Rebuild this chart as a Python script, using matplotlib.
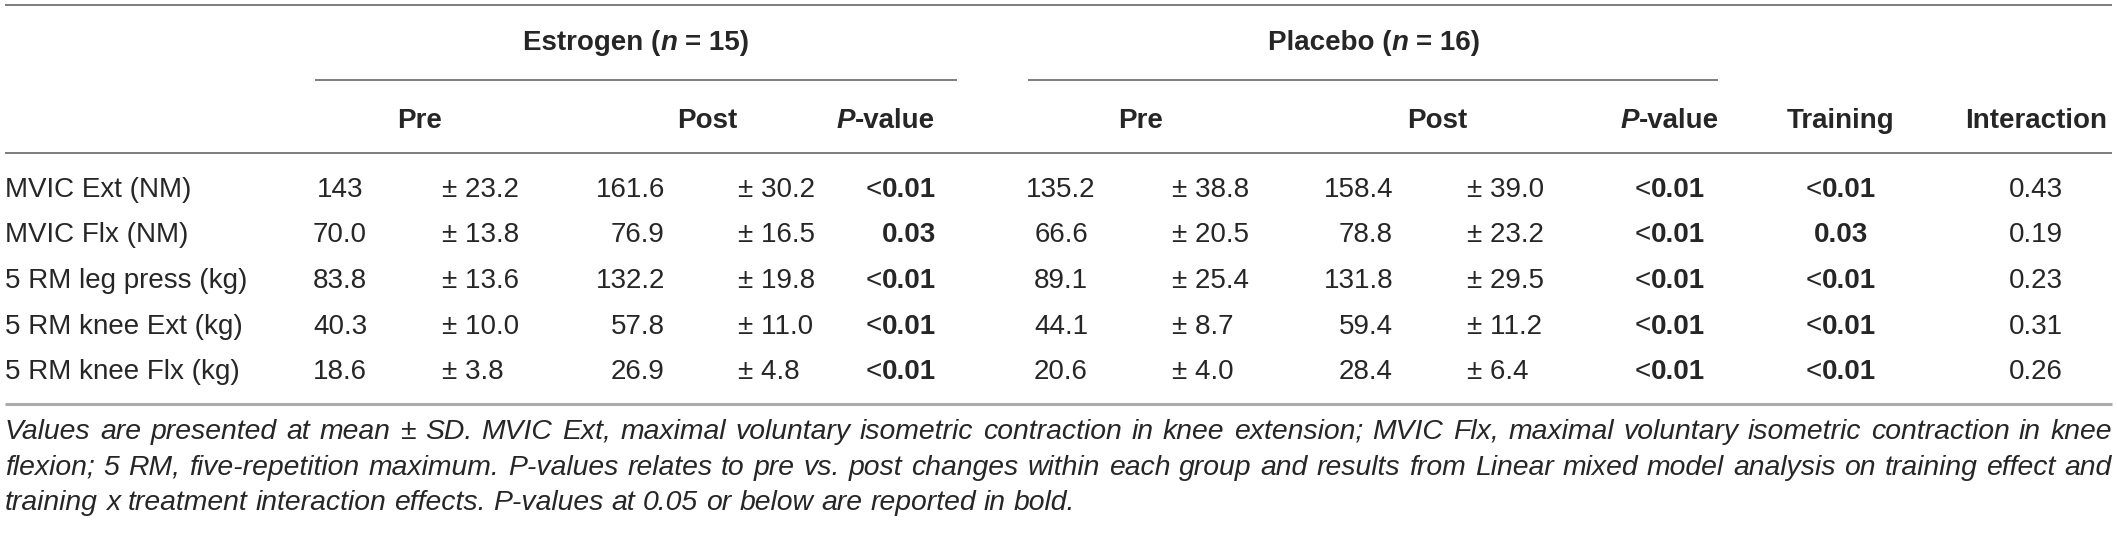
import matplotlib
matplotlib.use('Agg')
import matplotlib.pyplot as plt

# ---- table data ----
row_labels = ["MVIC Ext (NM)", "MVIC Flx (NM)", "5 RM leg press (kg)",
              "5 RM knee Ext (kg)", "5 RM knee Flx (kg)"]
est_pre_mean = ["143", "70.0", "83.8", "40.3", "18.6"]
est_pre_sd = ["23.2", "13.8", "13.6", "10.0", "3.8"]
est_post_mean = ["161.6", "76.9", "132.2", "57.8", "26.9"]
est_post_sd = ["30.2", "16.5", "19.8", "11.0", "4.8"]
est_p = ["<0.01", "0.03", "<0.01", "<0.01", "<0.01"]
pla_pre_mean = ["135.2", "66.6", "89.1", "44.1", "20.6"]
pla_pre_sd = ["38.8", "20.5", "25.4", "8.7", "4.0"]
pla_post_mean = ["158.4", "78.8", "131.8", "59.4", "28.4"]
pla_post_sd = ["39.0", "23.2", "29.5", "11.2", "6.4"]
pla_p = ["<0.01", "<0.01", "<0.01", "<0.01", "<0.01"]
training = ["<0.01", "0.03", "<0.01", "<0.01", "<0.01"]
interaction = ["0.43", "0.19", "0.23", "0.31", "0.26"]

groups = [("Estrogen", "15"), ("Placebo", "16")]
caption_lines = [
    "Values are presented at mean \u00b1 SD. MVIC Ext, maximal voluntary isometric contraction in knee "
    "extension; MVIC Flx, maximal voluntary isometric contraction in knee",
    "flexion; 5 RM, five-repetition maximum. P-values relates to pre vs. post changes within each "
    "group and results from Linear mixed model analysis on training effect and",
    "training x treatment interaction effects. P-values at 0.05 or below are reported in bold.",
]

FONT = 'Liberation Sans'
INK = '#262626'
SIZE = 20
CAP = 20.4
W, H = 2117, 542

fig = plt.figure(figsize=(W / 100, H / 100), dpi=100)
ax = fig.add_axes([0, 0, 1, 1])
ax.set_xlim(0, W)
ax.set_ylim(H, 0)
ax.axis('off')
rend = fig.canvas.get_renderer()


def adv(s, **kw):
    # advance width of a string, spaces included
    t = ax.text(0, 0, '|' + s + '|', fontfamily=FONT, **kw)
    w = t.get_window_extent(rend).width
    t.remove()
    t = ax.text(0, 0, '||', fontfamily=FONT, **kw)
    w0 = t.get_window_extent(rend).width
    t.remove()
    return w - w0


def runs(x, y, parts, ha='left', size=SIZE):
    # parts: (text, weight, style)
    ws = [adv(s, fontsize=size, fontweight=wt, fontstyle=st) for s, wt, st in parts]
    total = sum(ws)
    x0 = {'left': x, 'center': x - total / 2, 'right': x - total}[ha]
    for (s, wt, st), w in zip(parts, ws):
        lead = s[:len(s) - len(s.lstrip())]
        off = adv(lead, fontsize=size, fontweight=wt, fontstyle=st) if lead else 0
        ax.text(x0 + off, y, s.strip(), fontfamily=FONT, fontsize=size,
                fontweight=wt, fontstyle=st, color=INK, va='baseline', ha='left')
        x0 += w


def pval(x, y, s, ha):
    if s.startswith('<'):
        runs(x, y, [('<', 'normal', 'normal'), (s[1:], 'bold', 'normal')], ha=ha)
    elif float(s) <= 0.05:
        ax.text(x, y, s, fontfamily=FONT, fontsize=SIZE, fontweight='bold',
                color=INK, va='baseline', ha=ha)
    else:
        ax.text(x, y, s, fontfamily=FONT, fontsize=SIZE, color=INK,
                va='baseline', ha=ha)


# ---- layout ----
x_left, x_right = 5, 2112
y_top, y_sub, y_head, y_bottom = 5, 80, 153, 404
base_group, base_head = 50, 128
row_base = [197, 242.5, 288, 333.5, 379]
cap_base = [439, 475, 510]

rule = dict(color='#7d7d7d', lw=1.4, solid_capstyle='butt')
ax.plot([x_left, x_right], [y_top, y_top], **rule)
ax.plot([x_left, x_right], [y_head, y_head], **rule)
ax.plot([315, 957], [y_sub, y_sub], **rule)
ax.plot([1028, 1718], [y_sub, y_sub], **rule)
ax.plot([x_left, x_right], [y_bottom, y_bottom], color='#ababab', lw=2.2,
        solid_capstyle='butt')

# group headers
for (name, n), cx in zip(groups, [636, 1374]):
    runs(cx, base_group, [(name + ' (', 'bold', 'normal'), ('n', 'bold', 'italic'),
                          (' = ' + n + ')', 'bold', 'normal')], ha='center')

# column headers
for txt, cx in [("Pre", 420), ("Post", 707), ("Pre", 1141), ("Post", 1437),
                ("Training", 1841), ("Interaction", 2036)]:
    ax.text(cx, base_head, txt, fontfamily=FONT, fontsize=SIZE, fontweight='bold',
            color=INK, ha='center', va='baseline')
pv = [('P', 'bold', 'italic'), ('-value', 'bold', 'normal')]
runs(935, base_head, pv, ha='right')
runs(1670, base_head, pv, ha='center')

# body
cells = [
    (row_labels, 5, 'left', None),
    (est_pre_mean, 340, 'center', None),
    (est_pre_sd, 442, 'left', 'sd'),
    (est_post_mean, 665, 'right', None),
    (est_post_sd, 738, 'left', 'sd'),
    (est_p, 936, 'right', 'p'),
    (pla_pre_mean, 1061, 'center', None),
    (pla_pre_sd, 1172, 'left', 'sd'),
    (pla_post_mean, 1393, 'right', None),
    (pla_post_sd, 1467, 'left', 'sd'),
    (pla_p, 1670, 'center', 'p'),
    (training, 1841, 'center', 'p'),
    (interaction, 2036, 'center', 'p'),
]
for col, cx, ha, kind in cells:
    for val, yb in zip(col, row_base):
        if kind == 'p':
            pval(cx, yb, val, ha)
        else:
            s = '\u00b1 ' + val if kind == 'sd' else val
            ax.text(cx, yb, s, fontfamily=FONT, fontsize=SIZE, color=INK,
                    ha=ha, va='baseline')

# caption, justified like the source
for i, (line, yb) in enumerate(zip(caption_lines, cap_base)):
    words = line.split(' ')
    texts = [ax.text(0, yb, w, fontfamily=FONT, fontsize=CAP, fontstyle='italic',
                     color=INK, va='baseline', ha='left') for w in words]
    widths = [t.get_window_extent(rend).width for t in texts]
    space = adv(' ', fontsize=CAP, fontstyle='italic')
    if i < len(caption_lines) - 1:
        gap = (x_right - x_left - sum(widths)) / (len(words) - 1)
    else:
        gap = space
    x = x_left
    for t, w in zip(texts, widths):
        t.set_x(x)
        x += w + gap

fig.savefig('out.png', dpi=100, facecolor='white')
